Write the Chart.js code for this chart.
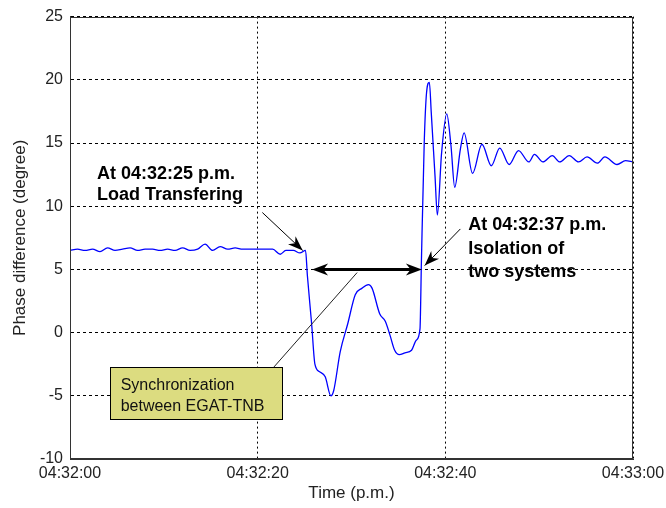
<!DOCTYPE html>
<html>
<head>
<meta charset="utf-8">
<script src="https://cdn.jsdelivr.net/npm/chart.js@4/dist/chart.umd.min.js"></script>
<style>
    html, body { margin: 0; padding: 0; background: #fff; }
    #phaseChart { display: block; }
</style>
</head>
<body>
<canvas id="phaseChart" width="666" height="508"></canvas>
<script>
// seconds after 04:32:00
const timeSec = [
    0, 0.8, 1.6, 2.4, 3.2, 4.0, 4.8, 5.6, 6.4, 7.2, 8.0, 8.8, 9.6, 10.4, 11.2, 12.0, 12.8, 13.6, 14.4, 15.2,
    16.0, 16.8, 17.6, 18.4, 19.2, 20.0, 20.8, 21.6, 22.4, 23.0, 23.8, 24.5, 25.1,
    25.3, 25.75, 26.1, 26.6, 27.2, 27.8, 28.1, 28.8, 29.6, 30.4, 31.1, 31.8, 32.2, 33.0, 33.6, 34.1,
    34.6, 35.1, 35.7, 36.4, 36.9, 37.3, 37.45, 37.75, 38.0, 38.3, 38.5, 38.9, 39.15, 39.6, 40.15, 40.6,
    41.0, 41.6, 42.0, 42.9, 43.9, 44.9, 45.8, 46.8, 47.8, 48.9, 49.5, 50.4, 51.4, 52.2, 53.2, 54.2,
    55.1, 56.2, 57.0, 58.3, 59.2, 60
];
const phaseDeg = [
    6.5, 6.6, 6.5, 6.6, 6.4, 6.7, 6.5, 6.6, 6.7, 6.5, 6.6, 6.6, 6.5, 6.6, 6.5, 6.7, 6.5, 6.6, 7.0, 6.5,
    6.8, 6.6, 6.7, 6.6, 6.6, 6.6, 6.6, 6.6, 6.2, 6.5, 6.5, 6.3, 6.5,
    4.5, 0.7, -2.5, -3.1, -3.5, -5.0, -4.6, -1.5, 0.7, 3.0, 3.5, 3.8, 3.5, 1.5, 0.9, -0.2,
    -1.4, -1.75, -1.6, -1.4, -0.6, 0.3, 5.6, 15, 19, 19.8, 17.4, 12.4, 9.3, 14.2, 17.3, 14.8,
    11.5, 14.5, 15.8, 12.6, 14.9, 13.2, 14.6, 13.3, 14.4, 13.5, 14.1, 13.5, 14.0, 13.5, 14.0, 13.5,
    13.9, 13.4, 13.9, 13.3, 13.6, 13.5
];
const xTicks = [0, 20, 40, 60];
const yTicks = [-10, -5, 0, 5, 10, 15, 20, 25];

const tickFont = { family: 'Liberation Sans, Arial, sans-serif', size: 16 };
const titleFont = { family: 'Liberation Sans, Arial, sans-serif', size: 17 };

function clockLabel(sec) {
    const m = 32 + Math.floor(sec / 60);
    const s = sec % 60;
    return `04:${String(m).padStart(2, '0')}:${String(s).padStart(2, '0')}`;
}

function arrowHead(ctx, x0, y0, x1, y1, len, half) {
    const a = Math.atan2(y1 - y0, x1 - x0);
    ctx.save();
    ctx.translate(x1, y1);
    ctx.rotate(a);
    ctx.beginPath();
    ctx.moveTo(0, 0);
    ctx.lineTo(-len, -half);
    ctx.lineTo(-len * 0.7, 0);
    ctx.lineTo(-len, half);
    ctx.closePath();
    ctx.fill();
    ctx.restore();
}

const annotationPlugin = {
    id: 'annotations',
    afterDatasetsDraw(chart) {
        const { ctx, chartArea: area, scales } = chart;
        const px = t => scales.x.getPixelForValue(t);
        const py = v => scales.y.getPixelForValue(v);
        ctx.save();

        // box around the axes
        ctx.strokeStyle = '#333';
        ctx.lineWidth = 1;
        const l = Math.round(area.left) + 0.5, t = Math.round(area.top) + 0.5;
        const r = Math.round(area.right) - 0.5, b = Math.round(area.bottom) - 0.5;
        ctx.strokeRect(l, t, r - l, b - t);

        ctx.fillStyle = '#000';
        ctx.strokeStyle = '#000';

        // thin arrows
        const thin = [[20.5, 9.5, 24.8, 6.5], [41.6, 8.2, 37.8, 5.3]];
        thin.forEach(([t0, v0, t1, v1]) => {
            const x0 = px(t0), y0 = py(v0), x1 = px(t1), y1 = py(v1);
            ctx.lineWidth = 1;
            ctx.beginPath();
            ctx.moveTo(x0, y0);
            ctx.lineTo(x1, y1);
            ctx.stroke();
            arrowHead(ctx, x0, y0, x1, y1, 15, 5.5);
        });

        // double arrow
        const dx0 = px(25.8), dx1 = px(37.5), dy = py(5);
        ctx.lineWidth = 3;
        ctx.beginPath();
        ctx.moveTo(dx0 + 8, dy);
        ctx.lineTo(dx1 - 8, dy);
        ctx.stroke();
        arrowHead(ctx, dx1, dy, dx0, dy, 16, 6);
        arrowHead(ctx, dx0, dy, dx1, dy, 16, 6);

        // connector to text box
        ctx.lineWidth = 1;
        ctx.strokeStyle = '#222';
        ctx.beginPath();
        ctx.moveTo(px(30.6), py(4.75));
        ctx.lineTo(px(21.7), py(-2.75));
        ctx.stroke();

        // yellow box
        const bx0 = Math.round(px(4.26)) + 0.5, bx1 = Math.round(px(22.6)) + 0.5;
        const by0 = Math.round(py(-2.75)) + 0.5, by1 = Math.round(py(-6.85)) + 0.5;
        ctx.fillStyle = '#dcdc80';
        ctx.fillRect(bx0, by0, bx1 - bx0, by1 - by0);
        ctx.strokeStyle = '#000';
        ctx.strokeRect(bx0, by0, bx1 - bx0, by1 - by0);
        ctx.fillStyle = '#111';
        ctx.font = '16px "Liberation Sans", Arial, sans-serif';
        ctx.textAlign = 'left';
        ctx.textBaseline = 'alphabetic';
        ctx.fillText('Synchronization', px(5.4), py(-4.56));
        ctx.fillText('between EGAT-TNB', px(5.4), py(-6.2));

        // bold labels
        ctx.fillStyle = '#000';
        ctx.font = 'bold 18px "Liberation Sans", Arial, sans-serif';
        ctx.fillText('At 04:32:25 p.m.', px(2.88), py(12.12));
        ctx.fillText('Load Transfering', px(2.88), py(10.46));
        ctx.fillText('At 04:32:37 p.m.', px(42.45), py(8.1));
        ctx.fillText('Isolation of', px(42.45), py(6.2));
        ctx.fillText('two systems', px(42.45), py(4.4));

        ctx.restore();
    }
};

new Chart(document.getElementById('phaseChart'), {
    type: 'line',
    data: {
        datasets: [{
            data: timeSec.map((t, i) => ({ x: t, y: phaseDeg[i] })),
            borderColor: '#0000ff',
            borderWidth: 1.3,
            pointRadius: 0,
            cubicInterpolationMode: 'monotone',
            fill: false
        }]
    },
    options: {
        responsive: false,
        animation: false,
        devicePixelRatio: 1,
        layout: { padding: { left: 0, top: 14, right: 33, bottom: 0 } },
        plugins: {
            legend: { display: false },
            tooltip: { enabled: false }
        },
        scales: {
            x: {
                type: 'linear',
                min: 0,
                max: 60,
                afterBuildTicks: scale => { scale.ticks = xTicks.map(v => ({ value: v })); },
                afterFit: scale => {
                    scale.height = 49;
                    scale.paddingLeft = 0;
                    scale.paddingRight = 0;
                },
                ticks: {
                    color: '#222',
                    font: tickFont,
                    padding: 5,
                    maxRotation: 0,
                    callback: value => clockLabel(value)
                },
                grid: { color: '#000', lineWidth: 1, drawTicks: false },
                border: { display: true, color: '#333', dash: [2, 3] },
                title: {
                    display: true,
                    text: 'Time (p.m.)',
                    color: '#222',
                    font: titleFont,
                    padding: { top: 4, bottom: 4 }
                }
            },
            y: {
                min: -10,
                max: 25,
                afterBuildTicks: scale => { scale.ticks = yTicks.map(v => ({ value: v })); },
                afterFit: scale => { scale.width = 70; },
                ticks: { color: '#222', font: tickFont, padding: 7 },
                grid: { color: '#000', lineWidth: 1, drawTicks: false },
                border: { display: true, color: '#333', dash: [3, 3] },
                title: {
                    display: true,
                    text: 'Phase difference (degree)',
                    color: '#222',
                    font: titleFont,
                    padding: { top: 10, bottom: 10 }
                }
            }
        }
    },
    plugins: [annotationPlugin]
});
</script>
</body>
</html>
